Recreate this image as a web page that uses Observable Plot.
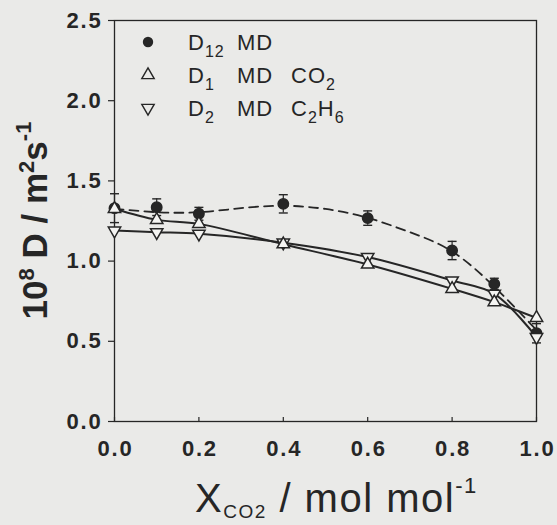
<!DOCTYPE html>
<html>
<head>
<meta charset="utf-8">
<script src="https://cdn.jsdelivr.net/npm/d3@7"></script>
<script src="https://cdn.jsdelivr.net/npm/@observablehq/plot@0.6"></script>
<style>
  html, body { margin: 0; padding: 0; background: #eaeae8; }
  #chart svg { display: block; background: transparent; }
</style>
</head>
<body>
<div id="chart"></div>
<script>
// ---- data ----
const xVals   = [0, 0.1, 0.2, 0.4, 0.6, 0.8, 0.9, 1.0];
const d12     = [1.33, 1.336, 1.295, 1.357, 1.268, 1.066, 0.858, 0.55];
const d12Err  = [0.09, 0.052, 0.04, 0.057, 0.045, 0.057, 0.035, 0.06];
const d1      = [1.326, 1.257, 1.232, 1.105, 0.979, 0.827, 0.744, 0.646];
const d2      = [1.19, 1.18, 1.17, 1.115, 1.025, 0.879, 0.796, 0.526];
const fitX    = [0, 0.1, 0.2, 0.3, 0.4, 0.5, 0.6, 0.7, 0.8, 0.9, 1.0];
const d12Fit  = [1.326, 1.305, 1.305, 1.33, 1.345, 1.325, 1.27, 1.18, 1.06, 0.84, 0.57];
const xTicks  = [0, 0.2, 0.4, 0.6, 0.8, 1.0];
const yTicks  = [0, 0.5, 1.0, 1.5, 2.0, 2.5];

const ink = "#262626";
const font = "'Liberation Sans', Arial, Helvetica, sans-serif";

const pts = xVals.map((x, i) => ({x, d12: d12[i], lo: d12[i] - d12Err[i], hi: d12[i] + d12Err[i], d1: d1[i], d2: d2[i]}));
const fit = fitX.map((x, i) => ({x, y: d12Fit[i]}));

const cap = { draw(ctx) { ctx.moveTo(-4.5, 0); ctx.lineTo(4.5, 0); } };

const W = 557, H = 525, mL = 114, mR = 21, mT = 20, mB = 104;

const plot = Plot.plot({
  width: W, height: H,
  marginLeft: mL, marginRight: mR, marginTop: mT, marginBottom: mB,
  style: {fontFamily: font, color: ink, background: "transparent"},
  x: {domain: [0, 1]},
  y: {domain: [0, 2.5]},
  marks: [
    Plot.axisY(yTicks, {tickSize: 6, tickPadding: 6, tickFormat: d => d.toFixed(1), fontSize: 22, fontWeight: "bold", label: null, stroke: ink, strokeWidth: 1.2}),
    Plot.axisX(xTicks, {tickSize: 0, tickPadding: 19, tickFormat: d => d.toFixed(1), fontSize: 22, fontWeight: "bold", label: null}),
    Plot.tickX(xTicks, {x: d => d, insetTop: H - mT - mB - 4, stroke: ink, strokeWidth: 1.2}),
    Plot.frame({stroke: ink, strokeWidth: 1.3}),
    // error bars for D12
    Plot.ruleX(pts, {x: "x", y1: "lo", y2: "hi", stroke: ink, strokeWidth: 1.2}),
    Plot.dot(pts, {x: "x", y: "hi", symbol: cap, stroke: ink, strokeWidth: 1.4, fill: "none"}),
    Plot.dot(pts, {x: "x", y: "lo", symbol: cap, stroke: ink, strokeWidth: 1.4, fill: "none"}),
    // curves
    Plot.line(fit, {x: "x", y: "y", curve: "natural", stroke: ink, strokeWidth: 1.8, strokeDasharray: "9,6"}),
    Plot.line(pts, {x: "x", y: "d1", curve: "catmull-rom", stroke: ink, strokeWidth: 2}),
    Plot.line(pts, {x: "x", y: "d2", curve: "catmull-rom", stroke: ink, strokeWidth: 2}),
    // markers
    Plot.dot(pts, {x: "x", y: "d12", r: 5.2, fill: ink, stroke: ink}),
    Plot.dot(pts, {x: "x", y: "d2", symbol: "triangle", rotate: 180, r: 4.6, fill: "#f4f4f2", stroke: ink, strokeWidth: 1.5}),
    Plot.dot(pts, {x: "x", y: "d1", symbol: "triangle", r: 4.6, fill: "#f4f4f2", stroke: ink, strokeWidth: 1.5})
  ]
});

document.getElementById("chart").appendChild(plot);

// wider tick-label lettering, like the scanned typeface
d3.select(plot).selectAll('g[aria-label="y-axis tick label"] text, g[aria-label="x-axis tick label"] text')
  .style("letter-spacing", "1.8px");
d3.select(plot).selectAll('g[aria-label="x-axis tick label"] text').attr("dx", 1);

// ---- axis titles and legend with sub/superscripts (dy keeps one text chunk) ----
const svg = d3.select(plot);

function rich(text, parts) {
  // parts: [string, shift(px, + = down), fontSize|null, absoluteX|undefined]
  let cur = 0;
  parts.forEach(([s, shift, fs, ax]) => {
    const t = text.append("tspan").text(s);
    t.attr("dy", shift - cur);
    cur = shift;
    if (fs) t.attr("font-size", fs);
    if (ax !== undefined) t.attr("x", ax);
  });
}

// x-axis title
const xt = svg.append("text").attr("fill", ink).attr("font-family", font).attr("font-size", 40)
  .attr("text-anchor", "start").attr("x", 195).attr("y", 512)
  .style("white-space", "pre").style("letter-spacing", "1.5px");
rich(xt, [["X", 0], ["CO2", 6, 19], [" / mol mol", 0], ["-1", -19, 22]]);

// y-axis title
const yt = svg.append("g").attr("transform", `translate(47,${(mT + H - mB) / 2}) rotate(-90)`)
  .append("text").attr("fill", ink).attr("font-family", font).attr("font-size", 35)
  .attr("font-weight", "bold").attr("text-anchor", "middle").attr("x", 0).attr("y", 0)
  .style("white-space", "pre");
rich(yt, [["10", 0], ["8", -13, 22], [" D / m", 0], ["2", -13, 22], ["s", 0], ["-1", -16, 22]]);

// legend
const leg = svg.append("g").attr("font-family", font).attr("fill", ink).attr("text-anchor", "start")
  .style("letter-spacing", "1px");
const rows = [
  {y: 50, sym: "circle", parts: [["D", 0, null, 188], ["12", 7, 16], ["MD", 0, null, 237]]},
  {y: 83, sym: "up", parts: [["D", 0, null, 188], ["1", 7, 16], ["MD", 0, null, 237], ["CO", 0, null, 291], ["2", 7, 16]]},
  {y: 116, sym: "down", parts: [["D", 0, null, 188], ["2", 7, 16], ["MD", 0, null, 237], ["C", 0, null, 291], ["2", 7, 16], ["H", 0], ["6", 7, 16]]}
];
rows.forEach(r => {
  const cy = r.y - 8;
  if (r.sym === "circle") {
    leg.append("circle").attr("cx", 148).attr("cy", cy).attr("r", 5.2).attr("fill", ink);
  } else {
    const p = d3.symbol(d3.symbolTriangle, Math.PI * 4.6 * 4.6)();
    leg.append("path").attr("d", p)
      .attr("transform", `translate(148,${cy})${r.sym === "down" ? " rotate(180)" : ""}`)
      .attr("fill", "none").attr("stroke", ink).attr("stroke-width", 1.4);
  }
  const t = leg.append("text").attr("font-size", 22).attr("x", 188).attr("y", r.y);
  rich(t, r.parts);
});
</script>
</body>
</html>
